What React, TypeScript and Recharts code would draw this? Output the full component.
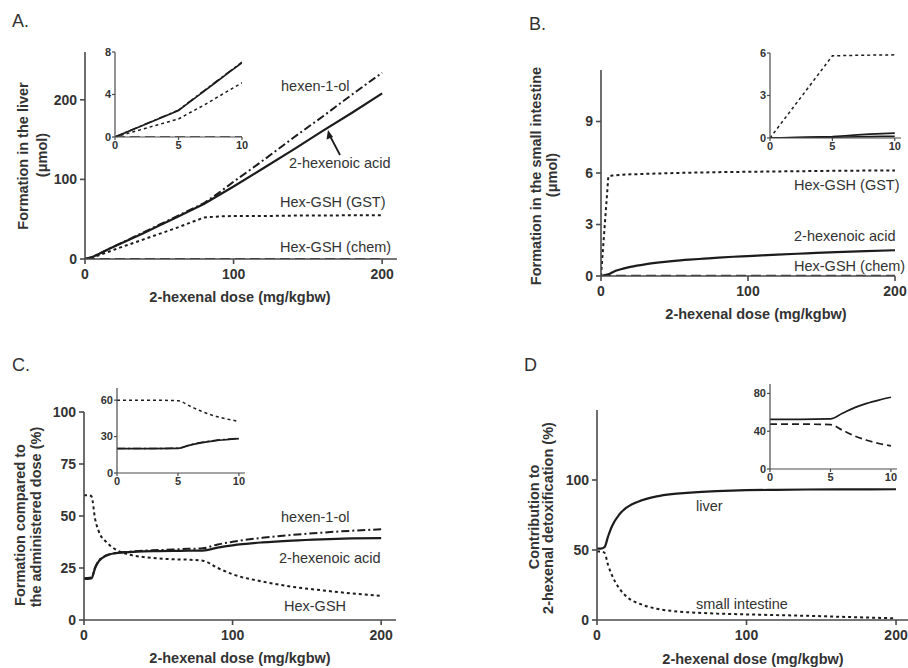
import React from 'react';
import { LineChart, Line, XAxis, YAxis } from 'recharts';

// dose grid (mg/kgbw) shared by the four main panels
const mainDose = [0, 2.5, 5, 7.5, 10, 15, 20, 30, 40, 50, 60, 70, 80, 90, 100, 120, 140, 160, 180, 200];
// dose grid of the 0-10 insets
const insetDose = [0, 2.5, 5, 6, 7, 8, 9, 10];

// A. formation in the liver (umol)
const acidA = [0, 1.2, 2.5, 4.7, 7, 11.5, 16, 24.5, 33, 42, 51, 60, 69, 80, 91, 114, 137, 161, 184, 208];
const hexenolA = [0, 1.2, 2.5, 4.75, 7.05, 11.7, 16.3, 25, 34, 43, 52, 61, 70, 83, 97, 124, 152, 179, 207, 234];
const gstA = [0, 0.8, 1.7, 3.4, 5.1, 8.5, 12, 18.5, 25, 31.5, 38, 45, 52, 53.5, 54, 54, 54.5, 54.5, 55, 55];
const chemA = [0, 0, 0, 0, 0, 0, 0, 0, 0, 0, 0, 0, 0, 0, 0, 0, 0, 0, 0, 0];
const acidAi = [0, 1.25, 2.5, 3.4, 4.3, 5.2, 6.1, 7.0];
const hexenolAi = [0, 1.27, 2.53, 3.45, 4.35, 5.25, 6.15, 7.05];
const gstAi = [0, 0.85, 1.7, 2.35, 3.0, 3.7, 4.4, 5.1];
const chemAi = [0, 0, 0, 0, 0, 0, 0, 0];

// B. formation in the small intestine (umol)
const gstB = [0, 2.9, 5.8, 5.85, 5.87, 5.9, 5.92, 5.95, 5.97, 6.0, 6.02, 6.03, 6.05, 6.06, 6.07, 6.09, 6.11, 6.13, 6.14, 6.15];
const acidB = [0, 0.05, 0.1, 0.2, 0.3, 0.43, 0.53, 0.68, 0.79, 0.88, 0.95, 1.01, 1.07, 1.12, 1.16, 1.25, 1.32, 1.39, 1.45, 1.5];
const chemB = [0, 0, 0.01, 0.01, 0.01, 0.01, 0.01, 0.01, 0.01, 0.01, 0.01, 0.01, 0.01, 0.01, 0.01, 0.01, 0.01, 0.01, 0.01, 0.01];
const gstBi = [0, 2.9, 5.8, 5.82, 5.84, 5.85, 5.86, 5.87];
const acidBi = [0, 0.05, 0.1, 0.16, 0.22, 0.27, 0.31, 0.35];
const chemBi = [0, 0.03, 0.06, 0.07, 0.09, 0.1, 0.11, 0.12];

// C. formation compared to the administered dose (%)
const hexenolC = [20.2, 20.2, 20.4, 25.3, 28.6, 31, 32, 32.8, 33.3, 33.6, 33.9, 34.2, 34.5, 36.3, 37.6, 39.5, 40.9, 42, 42.9, 43.6];
const acidC = [19.8, 19.8, 20, 25, 28.3, 31, 32, 32.6, 33, 33.1, 33.2, 33.3, 33.4, 34.8, 35.9, 37.3, 38.2, 38.8, 39.2, 39.4];
const gshC = [60, 60, 59.5, 48.5, 42.5, 37.5, 34.5, 31.5, 30.3, 29.6, 29.2, 29, 28.5, 25, 22, 18.5, 16, 14.3, 12.8, 11.6];
const hexenolCi = [20.2, 20.2, 20.4, 23.2, 25.3, 26.8, 27.8, 28.6];
const acidCi = [20, 20, 20.2, 23, 25, 26.5, 27.5, 28.3];
const gshCi = [60, 60, 59.5, 55, 50.5, 47, 44.5, 42.5];

// D. contribution to 2-hexenal detoxification (%)
const liverD = [51, 51, 52, 60, 67, 75.5, 80.5, 85.5, 88.3, 89.9, 90.8, 91.5, 92, 92.4, 92.7, 93, 93.2, 93.3, 93.3, 93.4];
const smallD = [49, 49, 48, 39, 32, 22.5, 16.5, 11, 8, 6.5, 5.6, 5, 4.6, 4.3, 4, 3.5, 3, 2.4, 1.8, 1.2];
const liverDi = [52.5, 52.5, 53, 59, 65, 69.5, 73, 76];
const smallDi = [47.5, 47.5, 47, 41, 35, 30.5, 27, 24.5];

const rows = (dose: number[], series: Record<string, number[]>) =>
  dose.map((d, i) => {
    const r: Record<string, number> = { dose: d };
    Object.keys(series).forEach((k) => (r[k] = series[k][i]));
    return r;
  });

const FONT = '"Liberation Sans", Arial, sans-serif';
const INK = '#1c1c1c';
const AXIS = '#4a4a4a';
const TXT = '#333';

const SOLID = { stroke: INK, strokeWidth: 2.2 };
const DASHDOT = { stroke: INK, strokeWidth: 2, strokeDasharray: '8 3 2 3' };
const DOTTED = { stroke: INK, strokeWidth: 2, strokeDasharray: '3 3' };
const LONGDASH = { stroke: '#333', strokeWidth: 2, strokeDasharray: '10 5' };

type SeriesSpec = { key: string; style: Record<string, unknown>; type?: 'linear' | 'monotone' };

type PanelProps = {
  data: Record<string, number>[];
  left: number;
  top: number;
  width: number;
  height: number;
  margin: { top: number; right: number };
  yWidth: number;
  xDomain: [number, number];
  xTicks: number[];
  yDomain: [number, number];
  yTicks: number[];
  series: SeriesSpec[];
  small?: boolean;
};

const Panel = (p: PanelProps) => {
  const fs = p.small ? 11 : 14;
  const tick = { fontSize: fs, fontWeight: 700, fill: TXT, fontFamily: FONT };
  return (
    <div style={{ position: 'absolute', left: p.left, top: p.top }}>
      <LineChart
        width={p.width}
        height={p.height}
        data={p.data}
        margin={{ top: p.margin.top, right: p.margin.right, left: 0, bottom: 0 }}
      >
        <XAxis
          type="number"
          dataKey="dose"
          domain={p.xDomain}
          ticks={p.xTicks}
          allowDataOverflow
          height={p.small ? 20 : 40}
          tick={tick}
          tickSize={p.small ? 3 : 5}
          tickMargin={p.small ? 1 : 5}
          axisLine={{ stroke: AXIS, strokeWidth: p.small ? 1.2 : 1.6 }}
          tickLine={{ stroke: AXIS, strokeWidth: p.small ? 1.2 : 1.6 }}
        />
        <YAxis
          type="number"
          domain={p.yDomain}
          ticks={p.yTicks}
          allowDataOverflow
          width={p.yWidth}
          tick={tick}
          tickSize={p.small ? 3 : 5}
          tickMargin={p.small ? 1 : 3}
          axisLine={{ stroke: AXIS, strokeWidth: p.small ? 1.2 : 1.6 }}
          tickLine={{ stroke: AXIS, strokeWidth: p.small ? 1.2 : 1.6 }}
        />
        {p.series.map((s) => (
          <Line
            key={s.key}
            dataKey={s.key}
            type={s.type ?? 'monotone'}
            dot={false}
            activeDot={false}
            isAnimationActive={false}
            {...(p.small ? { ...s.style, strokeWidth: Math.max(1.4, (s.style.strokeWidth as number) - 0.5) } : s.style)}
          />
        ))}
      </LineChart>
    </div>
  );
};

const label = { fontFamily: FONT, fontSize: 14.5, fill: TXT };
const title = { fontFamily: FONT, fontSize: 14.5, fontWeight: 700, fill: TXT };
const letter = { fontFamily: FONT, fontSize: 18, fill: TXT };

export default function App() {
  return (
    <div style={{ position: 'absolute', left: 0, top: 0, width: 908, height: 668, background: '#fff', overflow: 'hidden' }}>
      {/* A */}
      <Panel
        data={rows(mainDose, { acid: acidA, hexenol: hexenolA, gst: gstA, chem: chemA })}
        left={0} top={0} width={402} height={299} margin={{ top: 52, right: 5 }} yWidth={85}
        xDomain={[0, 210]} xTicks={[0, 100, 200]} yDomain={[0, 260]} yTicks={[0, 100, 200]}
        series={[
          { key: 'chem', style: LONGDASH, type: 'linear' },
          { key: 'gst', style: DOTTED, type: 'linear' },
          { key: 'hexenol', style: DASHDOT, type: 'linear' },
          { key: 'acid', style: SOLID, type: 'linear' },
        ]}
      />
      <Panel
        small
        data={rows(insetDose, { acid: acidAi, hexenol: hexenolAi, gst: gstAi, chem: chemAi })}
        left={80} top={40} width={170} height={117} margin={{ top: 12, right: 8 }} yWidth={35}
        xDomain={[0, 10]} xTicks={[0, 5, 10]} yDomain={[0, 8]} yTicks={[0, 4, 8]}
        series={[
          { key: 'chem', style: LONGDASH, type: 'linear' },
          { key: 'gst', style: DOTTED, type: 'linear' },
          { key: 'hexenol', style: DASHDOT, type: 'linear' },
          { key: 'acid', style: SOLID, type: 'linear' },
        ]}
      />
      {/* B */}
      <Panel
        data={rows(mainDose, { acid: acidB, gst: gstB, chem: chemB })}
        left={454} top={0} width={454} height={316} margin={{ top: 70, right: 13 }} yWidth={147}
        xDomain={[0, 200]} xTicks={[0, 100, 200]} yDomain={[0, 12]} yTicks={[0, 3, 6, 9]}
        series={[
          { key: 'chem', style: LONGDASH, type: 'linear' },
          { key: 'gst', style: DOTTED, type: 'linear' },
          { key: 'acid', style: SOLID },
        ]}
      />
      <Panel
        small
        data={rows(insetDose, { acid: acidBi, gst: gstBi, chem: chemBi })}
        left={735} top={40} width={173} height={118} margin={{ top: 13, right: 7 }} yWidth={35}
        xDomain={[0, 10.5]} xTicks={[0, 5, 10]} yDomain={[0, 6]} yTicks={[0, 3, 6]}
        series={[
          { key: 'chem', style: SOLID, type: 'linear' },
          { key: 'gst', style: DOTTED, type: 'linear' },
          { key: 'acid', style: SOLID, type: 'linear' },
        ]}
      />
      {/* C */}
      <Panel
        data={rows(mainDose, { acid: acidC, hexenol: hexenolC, gsh: gshC })}
        left={0} top={334} width={401} height={326} margin={{ top: 78, right: 5 }} yWidth={84}
        xDomain={[0, 210]} xTicks={[0, 100, 200]} yDomain={[0, 100]} yTicks={[0, 25, 50, 75, 100]}
        series={[
          { key: 'gsh', style: DOTTED },
          { key: 'hexenol', style: DASHDOT },
          { key: 'acid', style: SOLID },
        ]}
      />
      <Panel
        small
        data={rows(insetDose, { acid: acidCi, hexenol: hexenolCi, gsh: gshCi })}
        left={82} top={374} width={171} height={119} margin={{ top: 14, right: 8 }} yWidth={35}
        xDomain={[0, 10.5]} xTicks={[0, 5, 10]} yDomain={[0, 70]} yTicks={[0, 30, 60]}
        series={[
          { key: 'gsh', style: DOTTED },
          { key: 'hexenol', style: DASHDOT },
          { key: 'acid', style: SOLID },
        ]}
      />
      {/* D */}
      <Panel
        data={rows(mainDose, { liver: liverD, small: smallD })}
        left={454} top={334} width={454} height={326} margin={{ top: 76, right: 0 }} yWidth={143}
        xDomain={[0, 208]} xTicks={[0, 100, 200]} yDomain={[0, 150]} yTicks={[0, 50, 100]}
        series={[
          { key: 'small', style: DOTTED },
          { key: 'liver', style: SOLID },
        ]}
      />
      <Panel
        small
        data={rows(insetDose, { liver: liverDi, small: smallDi })}
        left={735} top={370} width={170} height={119} margin={{ top: 14, right: 8 }} yWidth={35}
        xDomain={[0, 10.5]} xTicks={[0, 5, 10]} yDomain={[0, 90]} yTicks={[0, 40, 80]}
        series={[
          { key: 'small', style: { stroke: INK, strokeWidth: 2.2, strokeDasharray: '7 4' } },
          { key: 'liver', style: SOLID },
        ]}
      />

      {/* texts */}
      <svg width={908} height={668} style={{ position: 'absolute', left: 0, top: 0, pointerEvents: 'none' }}>
        <text x={12} y={27} style={letter}>A.</text>
        <text x={529} y={30} style={letter}>B.</text>
        <text x={12} y={371} style={letter}>C.</text>
        <text x={524} y={371} style={letter}>D</text>

        <text x={281} y={91} style={label}>hexen-1-ol</text>
        <text x={289} y={168} style={label}>2-hexenoic acid</text>
        <text x={280} y={207} style={label}>Hex-GSH (GST)</text>
        <text x={280} y={252} style={label}>Hex-GSH (chem)</text>
        <line x1={340} y1={155} x2={330} y2={136} stroke={INK} strokeWidth={1.8} />
        <polygon points="328,130 326.5,139.5 333,137" fill={INK} />

        <text x={794} y={190} style={label}>Hex-GSH (GST)</text>
        <text x={794} y={241} style={label}>2-hexenoic acid</text>
        <text x={794} y={271} style={label}>Hex-GSH (chem)</text>

        <text x={281} y={522} style={label}>hexen-1-ol</text>
        <text x={279} y={563} style={label}>2-hexenoic acid</text>
        <text x={284} y={611} style={label}>Hex-GSH</text>

        <text x={696} y={511} style={label}>liver</text>
        <text x={696} y={609} style={label}>small intestine</text>

        <text x={240} y={302} textAnchor="middle" style={title}>2-hexenal dose (mg/kgbw)</text>
        <text x={756} y={319} textAnchor="middle" style={title}>2-hexenal dose (mg/kgbw)</text>
        <text x={240} y={663} textAnchor="middle" style={title}>2-hexenal dose (mg/kgbw)</text>
        <text x={753} y={664} textAnchor="middle" style={title}>2-hexenal dose (mg/kgbw)</text>

        <text transform="translate(28,156) rotate(-90)" textAnchor="middle" style={title}>Formation in the liver</text>
        <text transform="translate(47,155) rotate(-90)" textAnchor="middle" style={title}>(μmol)</text>
        <text transform="translate(541,176) rotate(-90)" textAnchor="middle" style={title}>Formation in the small intestine</text>
        <text transform="translate(557,175) rotate(-90)" textAnchor="middle" style={title}>(μmol)</text>
        <text transform="translate(25,525) rotate(-90)" textAnchor="middle" style={title}>Formation compared to</text>
        <text transform="translate(41,517) rotate(-90)" textAnchor="middle" style={title}>the administered dose (%)</text>
        <text transform="translate(539,517) rotate(-90)" textAnchor="middle" style={title}>Contribution to</text>
        <text transform="translate(553,518) rotate(-90)" textAnchor="middle" style={title}>2-hexenal detoxification (%)</text>
      </svg>
    </div>
  );
}
